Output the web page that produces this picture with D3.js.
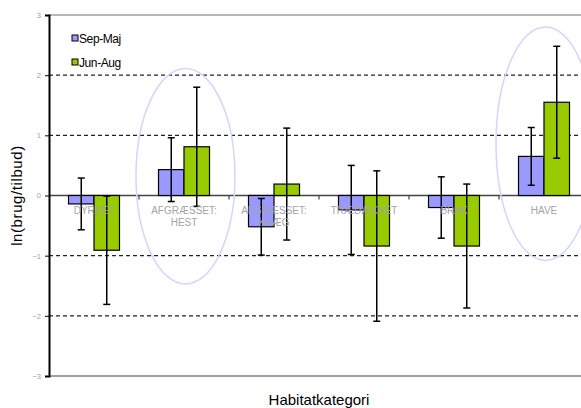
<!DOCTYPE html>
<html>
<head>
<meta charset="utf-8">
<script src="https://cdn.jsdelivr.net/npm/d3@7"></script>
<style>
  html, body { margin: 0; padding: 0; background: #fff; }
  svg { display: block; font-family: "Liberation Sans", Arial, sans-serif; }
</style>
</head>
<body>
<svg id="chart" width="581" height="408"></svg>
<script>
// Habitat categories (line breaks split the axis labels)
const categories = ["DYRKET", "AFGRÆSSET:\nHEST", "AFGRÆSSET:\nKVÆG", "TRÆDÆKKET", "BRAK", "HAVE"];
const seriesNames = ["Sep-Maj", "Jun-Aug"];

// Mean ln(use/availability) per season, with symmetric error
const sepMaj    = [-0.14, 0.43, -0.52, -0.24, -0.20, 0.65];
const sepMajErr = [ 0.43, 0.53,  0.47,  0.74,  0.51, 0.48];
const junAug    = [-0.91, 0.81,  0.19, -0.84, -0.84, 1.55];
const junAugErr = [ 0.90, 0.99,  0.93,  1.25,  1.03, 0.93];

const yTicks = [-3, -2, -1, 0, 1, 2, 3];
const gridValues = [-2, -1, 1, 2];

// Highlight rings: category, vertical centre and half-height (data units)
const ringCategories = ["AFGRÆSSET:\nHEST", "HAVE"];
const ringCentre = [0.32, 0.86];
const ringHalf = [1.79, 1.94];

const colors = { "Sep-Maj": "#9999ff", "Jun-Aug": "#99cc00" };

const svg = d3.select("#chart");
const plotLeft = 49, plotRight = 589, plotTop = 15, plotBottom = 376, frameEnd = 581;

const x0 = d3.scaleBand().domain(categories).range([plotLeft, plotRight]).padding(0);
const x1 = d3.scaleBand().domain(seriesNames).range([0, x0.bandwidth()])
  .paddingInner(0).paddingOuter(0.765);
const y = d3.scaleLinear().domain([-3, 3]).range([plotBottom, plotTop]);

const rows = categories.map((c, i) => ({
  cat: c,
  values: [
    { s: "Sep-Maj", v: sepMaj[i], e: sepMajErr[i] },
    { s: "Jun-Aug", v: junAug[i], e: junAugErr[i] }
  ]
}));

// Top frame line
svg.append("line")
  .attr("x1", plotLeft).attr("x2", frameEnd).attr("y1", y(3)).attr("y2", y(3))
  .attr("stroke", "#a0a0a0").attr("stroke-width", 1.5);

// Dashed gridlines
svg.append("g").selectAll("line").data(gridValues).join("line")
  .attr("x1", plotLeft).attr("x2", frameEnd)
  .attr("y1", d => y(d)).attr("y2", d => y(d))
  .attr("stroke", "#222").attr("stroke-width", 1.4)
  .attr("stroke-dasharray", "4,3");

// Bottom frame line
svg.append("line")
  .attr("x1", plotLeft).attr("x2", frameEnd).attr("y1", y(-3)).attr("y2", y(-3))
  .attr("stroke", "#a0a0a0").attr("stroke-width", 2);

// Zero line with category ticks
svg.append("line")
  .attr("x1", plotLeft).attr("x2", frameEnd).attr("y1", y(0)).attr("y2", y(0))
  .attr("stroke", "#444").attr("stroke-width", 1.5);
svg.append("g").selectAll("line").data(categories.slice(1)).join("line")
  .attr("x1", d => x0(d)).attr("x2", d => x0(d))
  .attr("y1", y(0)).attr("y2", y(0) + 4)
  .attr("stroke", "#444").attr("stroke-width", 1.2);

// Highlight rings
svg.append("g").selectAll("ellipse").data(ringCategories).join("ellipse")
  .attr("cx", d => x0(d) + x0.bandwidth() / 2 + 1.5)
  .attr("cy", (d, i) => y(ringCentre[i]))
  .attr("rx", x0.bandwidth() * 0.55)
  .attr("ry", (d, i) => y(0) - y(ringHalf[i]))
  .attr("fill", "none").attr("stroke", "#d4d4ff").attr("stroke-width", 1.5);

// Bars
const groups = svg.append("g").selectAll("g").data(rows).join("g")
  .attr("transform", d => `translate(${x0(d.cat)},0)`);

groups.selectAll("rect").data(d => d.values).join("rect")
  .attr("x", d => x1(d.s))
  .attr("width", x1.bandwidth())
  .attr("y", d => y(Math.max(0, d.v)))
  .attr("height", d => Math.abs(y(d.v) - y(0)))
  .attr("fill", d => colors[d.s])
  .attr("stroke", "#000").attr("stroke-width", 1.2);

// Category labels (drawn over the bars)
const labels = svg.append("g").selectAll("text").data(categories).join("text")
  .attr("x", d => x0(d) + x0.bandwidth() / 2)
  .attr("y", y(0) + 18)
  .attr("text-anchor", "middle")
  .attr("font-size", "10px")
  .attr("fill", "#a4a4a4");
labels.each(function (d) {
  const t = d3.select(this);
  d.split("\n").forEach((line, i) => {
    t.append("tspan").attr("x", t.attr("x")).attr("dy", i === 0 ? 0 : 12.5).text(line);
  });
});

// Error bars
const eb = groups.selectAll("g.err").data(d => d.values).join("g").attr("class", "err");
eb.append("line")
  .attr("x1", d => x1(d.s) + x1.bandwidth() / 2)
  .attr("x2", d => x1(d.s) + x1.bandwidth() / 2)
  .attr("y1", d => y(d.v + d.e)).attr("y2", d => y(d.v - d.e))
  .attr("stroke", "#000").attr("stroke-width", 1.5);
[1, -1].forEach(sign => {
  eb.append("line")
    .attr("x1", d => x1(d.s) + x1.bandwidth() / 2 - 3.5)
    .attr("x2", d => x1(d.s) + x1.bandwidth() / 2 + 3.5)
    .attr("y1", d => y(d.v + sign * d.e)).attr("y2", d => y(d.v + sign * d.e))
    .attr("stroke", "#000").attr("stroke-width", 1.5);
});

// Y axis
const yAxis = d3.axisLeft(y).tickValues(yTicks).tickSize(4).tickPadding(4).tickFormat(d3.format("d"));
const ya = svg.append("g").attr("transform", `translate(${plotLeft},0)`).call(yAxis);
ya.select(".domain").attr("stroke", "#000").attr("stroke-width", 2);
ya.selectAll(".tick line").attr("stroke", "#000").attr("stroke-width", 1);
ya.selectAll(".tick text").attr("fill", "#a0a0a0").attr("font-size", "7.5px")
  .attr("font-family", "'Liberation Sans', Arial, sans-serif");

// Axis titles
svg.append("text")
  .attr("transform", `translate(22,${(plotTop + plotBottom) / 2}) rotate(-90)`)
  .attr("text-anchor", "middle")
  .attr("font-size", "15px").attr("letter-spacing", "0.6")
  .attr("fill", "#000")
  .text("ln(brug/tilbud)");

svg.append("text")
  .attr("x", 319).attr("y", 405)
  .attr("text-anchor", "middle")
  .attr("font-size", "15px")
  .attr("fill", "#000")
  .text("Habitatkategori");

// Legend
const legend = svg.append("g").selectAll("g").data(seriesNames).join("g")
  .attr("transform", (d, i) => `translate(72,${39 + i * 24})`);
legend.append("rect")
  .attr("x", 0).attr("y", -4).attr("width", 6).attr("height", 6)
  .attr("fill", d => colors[d]).attr("stroke", "#000").attr("stroke-width", 1);
legend.append("text")
  .attr("x", 7).attr("y", 3.5)
  .attr("font-size", "12px").attr("letter-spacing", "-0.4")
  .attr("fill", "#000")
  .text(d => d);
</script>
</body>
</html>
